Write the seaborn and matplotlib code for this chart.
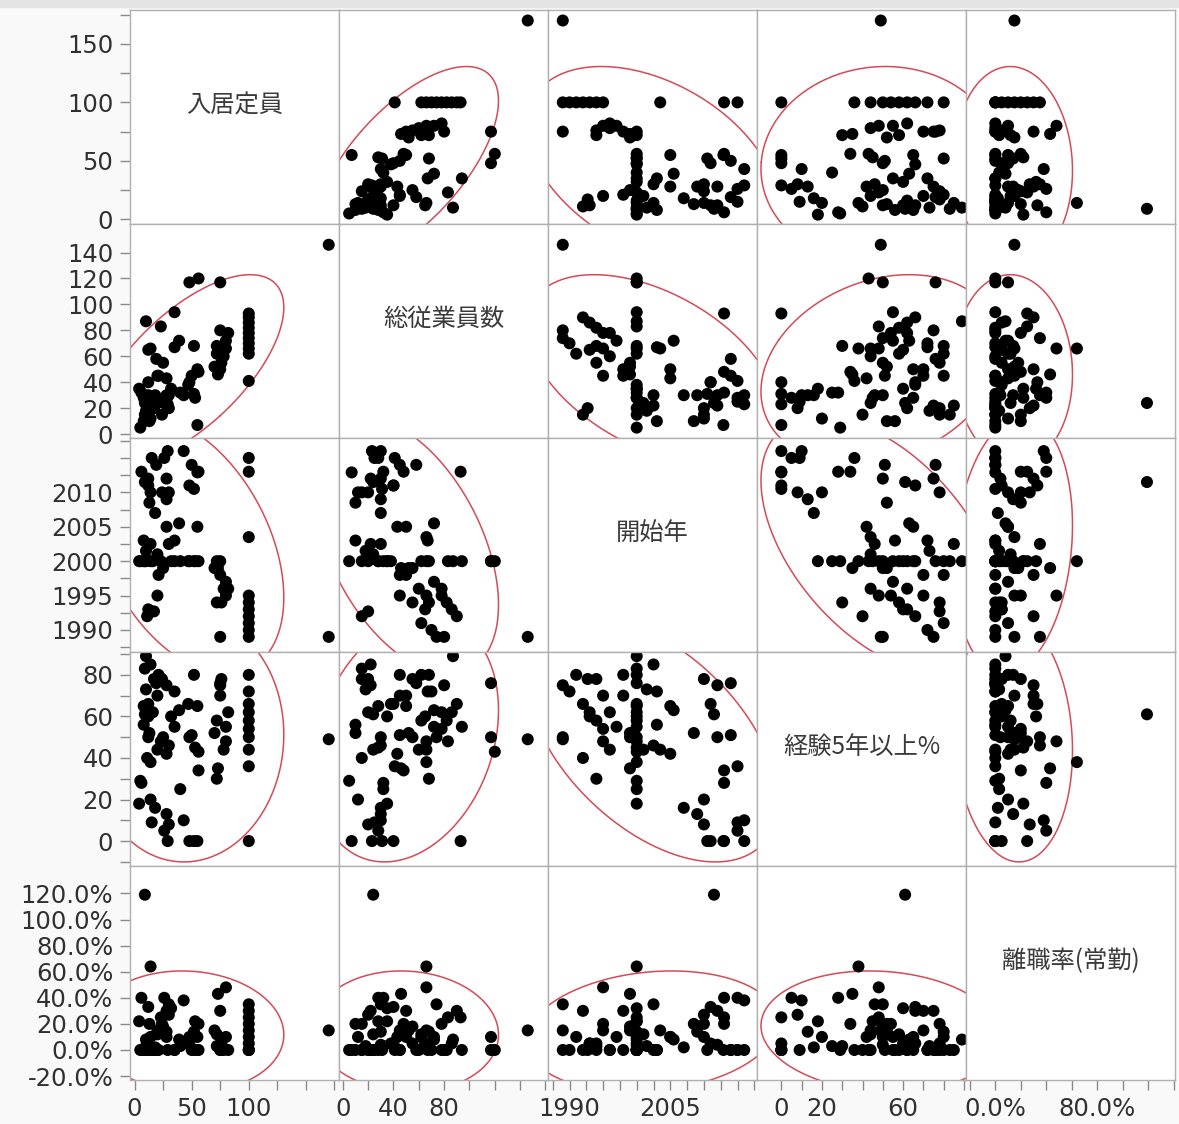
import numpy as np
import pandas as pd
import seaborn as sns
import matplotlib.pyplot as plt
from matplotlib.ticker import FixedLocator, PercentFormatter, FormatStrFormatter

# one entry per facility
cap = [170, 9, 14, 100, 100, 100, 100, 100, 100, 100, 100, 100, 100,
       56, 48, 75, 82, 80, 80, 78, 76, 75, 73, 72, 70, 75, 72,
       55, 50, 56, 48, 52, 55, 43, 53, 47, 40, 52,
       35, 35, 39, 29, 26, 28, 30, 28, 24, 28, 30, 23, 21, 20, 32, 25,
       19, 10, 12, 17, 11, 13, 15, 18, 14, 10, 14, 5, 8, 4, 16, 12, 9, 20, 6, 12, 8]
emp = [146, 24, 66, 62, 70, 90, 86, 82, 78, 74, 66, 93, 41,
       120, 117, 117, 78, 72, 66, 60, 55, 50, 46, 68, 52, 80, 62,
       7, 45, 48, 40, 31, 50, 30, 28, 38, 32, 68,
       94, 67, 72, 23, 28, 22, 20, 30, 15, 43, 30, 83, 45, 45, 35, 55,
       58, 87, 65, 20, 15, 10, 25, 30, 12, 18, 22, 5, 28, 35, 20, 30, 15, 24, 32, 40, 10]
year = [1989, 2011.5, 2000, 1991, 1990, 1992, 1993, 1994, 1995, 1989, 2003.5, 2013, 2015,
        2000, 2000, 2000, 1996, 1997, 1995, 1996, 1994, 1998, 1999, 1994, 1999, 1989, 2000,
        2012.9, 2014, 2013, 2011, 2010.5, 2005, 2016, 2000, 2000, 2000, 2000,
        2000, 2003, 2005.5, 2016, 2015, 2012, 2010, 2009, 2010, 2005, 2002.5, 2000, 1998, 1995, 2000, 1999,
        2014, 2000, 1993, 1992.7, 1992, 2008.5, 2015, 2007, 2010, 2001.5, 2002.5, 2000, 2000, 2000, 2000,
        2012, 2000, 2001, 2013, 2011, 2003]
exp5 = [49, 61, 38, 80, 72, 66, 62, 58, 54, 50, 44, 0, 36,
        43, 50, 76, 62, 55, 48, 44, 78, 70, 35, 30, 52, 75, 58,
        0, 51, 34, 0, 0, 65, 10, 45, 66, 25, 80,
        55, 72, 63, 0, 5, 75, 8, 13, 78, 42, 46, 48, 80, 70, 60, 50,
        76, 89, 60, 78, 40, 52, 9, 16, 20, 73, 85, 29, 65, 18, 62, 50, 83, 44, 28, 66, 56]
turn = [0.15, 1.19, 0.64, 0.10, 0.0, 0.30, 0.05, 0.0, 0.20, 0.35, 0.15, 0.25, 0.0,
        0.0, 0.10, 0.0, 0.0, 0.10, 0.48, 0.0, 0.05, 0.30, 0.43, 0.03, 0.15, 0.0, 0.12,
        0.0, 0.0, 0.20, 0.05, 0.0, 0.10, 0.38, 0.22, 0.05, 0.03, 0.14,
        0.0, 0.0, 0.08, 0.0, 0.40, 0.30, 0.27, 0.14, 0.20, 0.10, 0.35, 0.25, 0.0, 0.15, 0.32, 0.18,
        0.0, 0.08, 0.05, 0.0, 0.0, 0.20, 0.0, 0.02, 0.10, 0.03, 0.0, 0.0, 0.0, 0.22, 0.0,
        0.04, 0.0, 0.12, 0.40, 0.33, 0.0]

cols = ['入居定員', '総従業員数', '開始年', '経験5年以上%', '離職率(常勤)']
df = pd.DataFrame(dict(zip(cols, [cap, emp, year, exp5, turn])))

lims = [(-4, 179), (-3, 162), (1986.8, 2017.9), (-12, 91), (-0.23, 1.41)]
y_major = [[0, 50, 100, 150], list(range(0, 141, 20)), [1990, 1995, 2000, 2005, 2010],
           [0, 20, 40, 60, 80], list(np.arange(-0.2, 1.21, 0.2))]
y_minor = [[25, 75, 125, 175], [], [1987.5, 1992.5, 1997.5, 2002.5, 2007.5, 2012.5, 2015, 2017.5],
           [-10, 10, 30, 50, 70, 90], []]
x_major = [[0, 50, 100], [0, 40, 80], [1990, 2005], [0, 20, 60], [0.0, 0.8]]
x_minor = [[25, 75, 125, 150, 175], [20, 60, 100, 120, 140, 160],
           [1987.5, 1992.5, 1995, 1997.5, 2000, 2002.5, 2007.5, 2010, 2012.5, 2015, 2017.5],
           [10, 30, 40, 50, 70, 80, 90], [-0.2, 0.2, 0.4, 0.6, 1.0, 1.2, 1.4]]

plt.rcParams['axes.unicode_minus'] = False
sns.set_style('white')
plt.rcParams['font.family'] = ['DejaVu Sans', 'Noto Sans CJK JP']

n = len(cols)
fig, axes = plt.subplots(n, n, figsize=(11.79, 11.24), dpi=100, sharex='col', sharey='row')
fig.patch.set_facecolor('#f9f9f9')
fig.subplots_adjust(left=130 / 1179, right=1175 / 1179, top=1 - 10 / 1124, bottom=1 - 1080 / 1124,
                    wspace=0, hspace=0)


def density_ellipse(ax, x, y):
    x = np.asarray(x, float)
    y = np.asarray(y, float)
    m = np.array([x.mean(), y.mean()])
    vals, vecs = np.linalg.eigh(np.cov(x, y))
    t = np.linspace(0, 2 * np.pi, 400)
    circ = np.vstack([np.cos(t), np.sin(t)]) * np.sqrt(vals)[:, None] * np.sqrt(5.991)
    pts = vecs @ circ + m[:, None]
    ax.plot(pts[0], pts[1], color='#d44a56', lw=1.1, zorder=1)


for i in range(n):
    for j in range(n):
        ax = axes[i, j]
        ax.set_facecolor('white')
        if i == j:
            ax.text(0.5, 0.555, cols[i], transform=ax.transAxes, ha='center', va='center',
                    fontsize=17.5, color='#3a3a3a', family=['Noto Sans CJK JP', 'DejaVu Sans'])
        else:
            density_ellipse(ax, df[cols[j]], df[cols[i]])
            sns.scatterplot(data=df, x=cols[j], y=cols[i], ax=ax, color='black', s=75,
                            edgecolor='none', legend=False, zorder=2)
        ax.set_xlabel('')
        ax.set_ylabel('')
        for sp in ax.spines.values():
            sp.set_color('#b0b0b0')
            sp.set_linewidth(1)
        ax.tick_params(which='both', direction='out', length=7, width=1, color='#8a8a8a',
                       labelsize=17.5, labelcolor='#303030', pad=5,
                       left=(j == 0), labelleft=(j == 0),
                       bottom=(i == n - 1), labelbottom=(i == n - 1))

for k in range(n):
    axes[k, 0].set_ylim(lims[k])
    axes[0, k].set_xlim(lims[k])
    axes[k, 0].yaxis.set_major_locator(FixedLocator(y_major[k]))
    axes[k, 0].yaxis.set_minor_locator(FixedLocator(y_minor[k]))
    axes[0, k].xaxis.set_major_locator(FixedLocator(x_major[k]))
    axes[0, k].xaxis.set_minor_locator(FixedLocator(x_minor[k]))
    if k == n - 1:
        axes[k, 0].yaxis.set_major_formatter(PercentFormatter(1.0, decimals=1))
        axes[0, k].xaxis.set_major_formatter(PercentFormatter(1.0, decimals=1))
    else:
        axes[k, 0].yaxis.set_major_formatter(FormatStrFormatter('%d'))
        axes[0, k].xaxis.set_major_formatter(FormatStrFormatter('%d'))

fig.add_artist(plt.Rectangle((0, 1 - 7 / 1124), 1, 7 / 1124, transform=fig.transFigure,
                             color='#e4e4e4', zorder=0))

fig.savefig('out.png', dpi=100, facecolor=fig.get_facecolor())
